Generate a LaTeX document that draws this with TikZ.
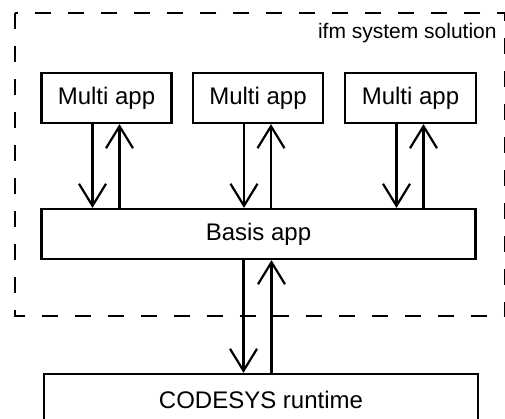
\documentclass[tikz,border=0pt]{standalone}
\usepackage{fontspec}
\setmainfont{Liberation Sans}
\usetikzlibrary{arrows.meta}

\tikzset{
  appbox/.style={draw, line width=1.1pt, minimum height=25pt, inner sep=0pt,
    font=\fontsize{12}{14}\selectfont},
  flow/.style={line width=1.1pt, -{Straight Barb[length=11pt,width=13.5pt,line width=1.1pt]}},
}

\begin{document}
\begin{tikzpicture}[x=0.5pt,y=-0.5pt]

\useasboundingbox (0,0) rectangle (505,419);
\clip (0,0) rectangle (505,419);

% System frame
\draw[line width=1.1pt, dash pattern=on 8pt off 8.5pt] (15,13) rectangle (505.5,316);
\node[anchor=base east, inner sep=0pt, font=\fontsize{10.5}{12}\selectfont] (sol) at (497,38) {ifm system solution};

% Multi apps
\node[appbox, minimum width=65pt] (m1) at (106.5,98) {Multi app};
\node[appbox, minimum width=65pt] (m2) at (258,98) {Multi app};
\node[appbox, minimum width=65.5pt] (m3) at (410.5,98) {Multi app};

% Basis app and runtime
\node[appbox, minimum width=217pt] (basis) at (258.5,234) {Basis app};
\node[appbox, minimum width=217pt, minimum height=26pt] (rt) at (261,400) {CODESYS runtime};

% Arrows between apps
\foreach \m in {m1,m2,m3}{
  \draw[flow] ([xshift=-7pt]\m.south) -- ([xshift=-7pt]\m.south |- basis.north);
  \draw[flow] ([xshift=6.5pt]\m.south |- basis.north) -- ([xshift=6.5pt]\m.south);
}
\draw[flow] ([xshift=-7.5pt]basis.south) -- ([xshift=-7.5pt]basis.south |- rt.north);
\draw[flow] ([xshift=6.5pt]basis.south |- rt.north) -- ([xshift=6.5pt]basis.south);

\end{tikzpicture}
\end{document}
